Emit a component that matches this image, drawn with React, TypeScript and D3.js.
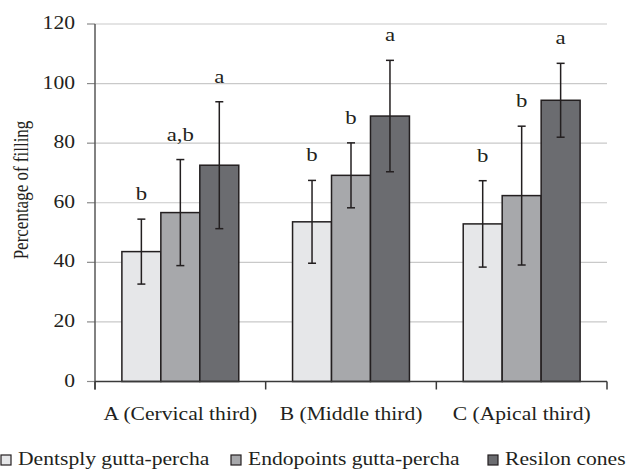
import React from "react";
import * as d3 from "d3";

const categories = ["A (Cervical third)", "B (Middle third)", "C (Apical third)"];
const seriesNames = ["Dentsply gutta-percha", "Endopoints gutta-percha", "Resilon cones"];
const dentsply = [43.6, 53.6, 52.9];
const endopoints = [56.7, 69.2, 62.4];
const resilon = [72.6, 89.1, 94.4];
const dentsplySD = [10.9, 13.9, 14.5];
const endopointsSD = [17.8, 10.9, 23.3];
const resilonSD = [21.3, 18.7, 12.4];
const dentsplyLetters = ["b", "b", "b"];
const endopointsLetters = ["a,b", "b", "b"];
const resilonLetters = ["a", "a", "a"];
const yTicks = [0, 20, 40, 60, 80, 100, 120];
const fills = ["#e6e7e9", "#a7a8ab", "#6b6c70"];

const W = 628, H = 470;
const left = 95, right = 607, top = 24, bottom = 381.5;
const FONT = "'Liberation Serif', 'Times New Roman', serif";
const SX = 1.2;
const FS = 18;
const INK = "#231f20";

export default function App() {
  const values = [dentsply, endopoints, resilon];
  const sds = [dentsplySD, endopointsSD, resilonSD];
  const letters = [dentsplyLetters, endopointsLetters, resilonLetters];
  const y = d3.scaleLinear().domain([0, 120]).range([bottom, top]);
  const x0 = d3.scaleBand<string>().domain(categories).range([left, right]).paddingInner(0).paddingOuter(0);
  const x1 = d3.scaleBand<string>().domain(seriesNames).range([0, x0.bandwidth()]).paddingInner(0).paddingOuter(0.69);
  const legendX = [1, 231, 488];

  const txt = (x: number, yy: number, s: string, anchor: string, size = FS, key?: string) => (
    <text key={key} transform={`translate(${x},${yy}) scale(${SX},1)`} textAnchor={anchor}
      fontFamily={FONT} fontSize={size} fill={INK}>{s}</text>
  );

  return (
    <svg width={W} height={H} style={{ position: "absolute", left: 0, top: 0, background: "#fff" }}>
      {/* gridlines */}
      {yTicks.filter(t => t > 0).map(t => (
        <line key={"g" + t} x1={left} x2={right} y1={y(t)} y2={y(t)} stroke="#c9c9c9" strokeWidth={1.2} />
      ))}
      {/* y ticks */}
      {yTicks.map(t => (
        <g key={"t" + t}>
          <line x1={left - 8} x2={left} y1={y(t)} y2={y(t)} stroke="#8a8a8a" strokeWidth={1.2} />
          {txt(75, y(t) + 5, String(t), "end")}
        </g>
      ))}
      {/* bars */}
      {categories.map((c, ci) => (
        <g key={c}>
          {seriesNames.map((s, si) => {
            const v = values[si][ci];
            const bx = (x0(c) ?? 0) + (x1(s) ?? 0);
            return (
              <rect key={s} x={bx} y={y(v)} width={x1.bandwidth()} height={y(0) - y(v)}
                fill={fills[si]} stroke={INK} strokeWidth={1.5} />
            );
          })}
        </g>
      ))}
      {/* error bars and letters */}
      {categories.map((c, ci) => (
        <g key={"e" + c}>
          {seriesNames.map((s, si) => {
            const v = values[si][ci];
            const sd = sds[si][ci];
            const cx = (x0(c) ?? 0) + (x1(s) ?? 0) + x1.bandwidth() / 2;
            const yt = y(v + sd), yb = y(v - sd);
            return (
              <g key={s}>
                <line x1={cx} x2={cx} y1={yt} y2={yb} stroke={INK} strokeWidth={1.5} />
                <line x1={cx - 4} x2={cx + 4} y1={yt} y2={yt} stroke={INK} strokeWidth={1.5} />
                <line x1={cx - 4} x2={cx + 4} y1={yb} y2={yb} stroke={INK} strokeWidth={1.5} />
                {txt(cx, yt - 19, letters[si][ci], "middle", 19)}
              </g>
            );
          })}
        </g>
      ))}
      {/* axes */}
      <line x1={left} x2={left} y1={top} y2={bottom + 8} stroke="#595959" strokeWidth={1.5} />
      <line x1={left} x2={right} y1={bottom} y2={bottom} stroke="#3a3a3a" strokeWidth={1.5} />
      {[...categories.map(c => x0(c) ?? 0), right].map((xx, i) => (
        <line key={"xt" + i} x1={xx} x2={xx} y1={bottom} y2={bottom + 8} stroke="#3a3a3a" strokeWidth={1.5} />
      ))}
      {categories.map(c => txt((x0(c) ?? 0) + x0.bandwidth() / 2, 420, c, "middle", FS, "c" + c))}
      {/* y label */}
      <text transform={`translate(28,190) scale(${SX},1) rotate(-90)`} textAnchor="middle"
        fontFamily={FONT} fontSize={17} fill={INK}>Percentage of filling</text>
      {/* legend */}
      {seriesNames.map((s, i) => (
        <g key={"l" + s}>
          <rect x={legendX[i]} y={455} width={10} height={10} fill={fills[i]} stroke={INK} strokeWidth={1.2} />
          {txt(legendX[i] + 17, 465, s, "start")}
        </g>
      ))}
    </svg>
  );
}
